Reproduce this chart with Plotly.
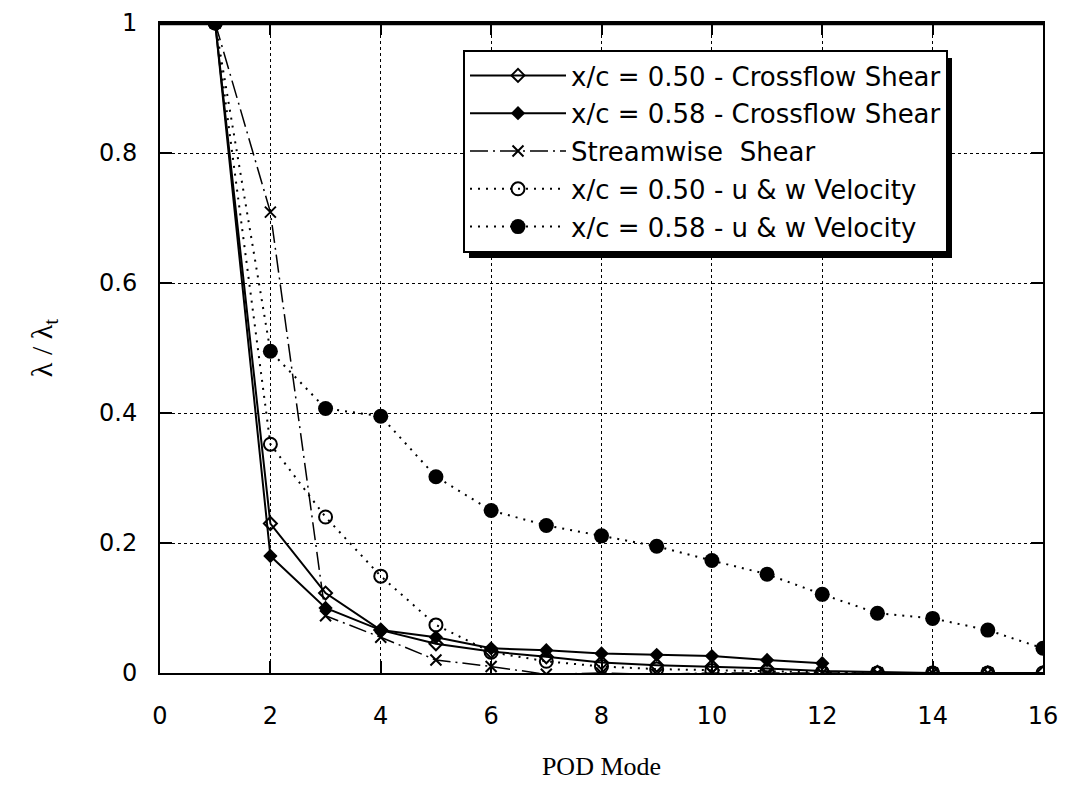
import plotly.graph_objects as go

modes_cf50 = list(range(1, 17))
cf50 = [1.0, 0.23, 0.123, 0.066, 0.045, 0.033, 0.025, 0.016, 0.012, 0.01, 0.007, 0.003, 0.001, 0.0, 0.0, 0.0]

modes_cf58 = list(range(1, 13))
cf58 = [1.0, 0.18, 0.10, 0.066, 0.055, 0.038, 0.035, 0.030, 0.028, 0.026, 0.020, 0.015]

modes_sw = list(range(1, 16))
sw = [1.0, 0.709, 0.088, 0.055, 0.02, 0.01, -0.002, 0.0, -0.002, 0.0, 0.0, 0.0, 0.0, 0.0, 0.0]

modes_uw50 = list(range(1, 17))
uw50 = [1.0, 0.352, 0.24, 0.149, 0.074, 0.032, 0.018, 0.01, 0.006, 0.004, 0.002, 0.001, 0.0, 0.0, 0.0, 0.0]

modes_uw58 = list(range(1, 17))
uw58 = [1.0, 0.495, 0.407, 0.395, 0.302, 0.25, 0.227, 0.211, 0.195, 0.173, 0.152, 0.121, 0.092, 0.084, 0.066, 0.038]

names = [
    "x/c = 0.50 - Crossflow Shear",
    "x/c = 0.58 - Crossflow Shear",
    "Streamwise  Shear",
    "x/c = 0.50 - u & w Velocity",
    "x/c = 0.58 - u & w Velocity",
]

x_ticks = list(range(0, 17, 2))
y_ticks = [0, 0.2, 0.4, 0.6, 0.8, 1]

SANS = "DejaVu Sans, Arial"
SERIF = "Liberation Serif, Times New Roman"

fig = go.Figure()
fig.add_trace(go.Scatter(x=modes_cf50, y=cf50, name=names[0], legendgroup="a", mode="lines+markers",
                         line=dict(color="black", width=2),
                         marker=dict(symbol="diamond-open", size=10, color="black", line=dict(width=2))))
fig.add_trace(go.Scatter(x=modes_cf58, y=cf58, name=names[1], legendgroup="b", mode="lines+markers",
                         line=dict(color="black", width=2),
                         marker=dict(symbol="diamond", size=11, color="black")))
fig.add_trace(go.Scatter(x=modes_sw, y=sw, name=names[2], legendgroup="c", mode="lines+markers",
                         line=dict(color="black", width=1.5, dash="18px,5px,2px,5px"),
                         marker=dict(symbol="x-thin", size=11, color="black", line=dict(width=2, color="black"))))
fig.add_trace(go.Scatter(x=modes_uw50, y=uw50, name=names[3], legendgroup="d", mode="lines+markers",
                         line=dict(color="black", width=2, dash="2px,6px"),
                         marker=dict(symbol="circle-open", size=13, color="black", line=dict(width=2))))
fig.add_trace(go.Scatter(x=modes_uw58, y=uw58, name=names[4], legendgroup="e", mode="lines+markers",
                         line=dict(color="black", width=2, dash="2px,6px"),
                         marker=dict(symbol="circle", size=15, color="black")))

axis_common = dict(showline=True, linecolor="black", linewidth=2, mirror="ticks",
                   ticks="inside", ticklen=12, tickwidth=2, tickcolor="black",
                   showgrid=True, gridcolor="black", gridwidth=1, griddash="dot",
                   zeroline=False, automargin=False, ticklabeloverflow="allow",
                   tickfont=dict(family=SANS, size=24, color="black"))

fig.update_xaxes(range=[0, 16], tickvals=x_ticks, **axis_common,
                 ticklabelstandoff=20,
                 title=dict(text="POD Mode", font=dict(family=SERIF, size=26, color="black"),
                            standoff=28))
fig.update_yaxes(range=[0, 1], tickvals=y_ticks, ticktext=[str(v) for v in y_ticks], **axis_common,
                 ticklabelstandoff=16,
                 title=dict(text="λ / λ<sub>t</sub>", font=dict(family=SERIF, size=30, color="black"),
                            standoff=38))

# plot area in figure coordinates
PL, PR, PT, PB = 152, 1035, 15, 665
PW, PH = PR - PL, PB - PT

# top frame line (explicit)
fig.add_shape(type="line", xref="paper", yref="paper", x0=0, x1=1, y0=0.999, y1=0.999,
              line=dict(color="black", width=3), layer="above")

# legend shadow
fig.add_shape(type="rect", xref="paper", yref="paper",
              x0=(461 - PL) / PW, x1=(944 - PL) / PW,
              y0=(PB - 250) / PH, y1=(PB - 50) / PH,
              fillcolor="black", line=dict(width=0), layer="above")

fig.update_layout(
    width=1071, height=788,
    margin=dict(l=PL, r=1071 - PR, t=PT, b=788 - PB),
    paper_bgcolor="white", plot_bgcolor="white",
    showlegend=True,
    legend=dict(x=(455 - PL) / PW, y=(PB - 42) / PH, xanchor="left", yanchor="top",
                bgcolor="white", bordercolor="black", borderwidth=2,
                font=dict(family=SANS, size=26, color="black"),
                tracegroupgap=1, itemwidth=96),
)

fig.write_html("out.html", config={"displayModeBar": False})
